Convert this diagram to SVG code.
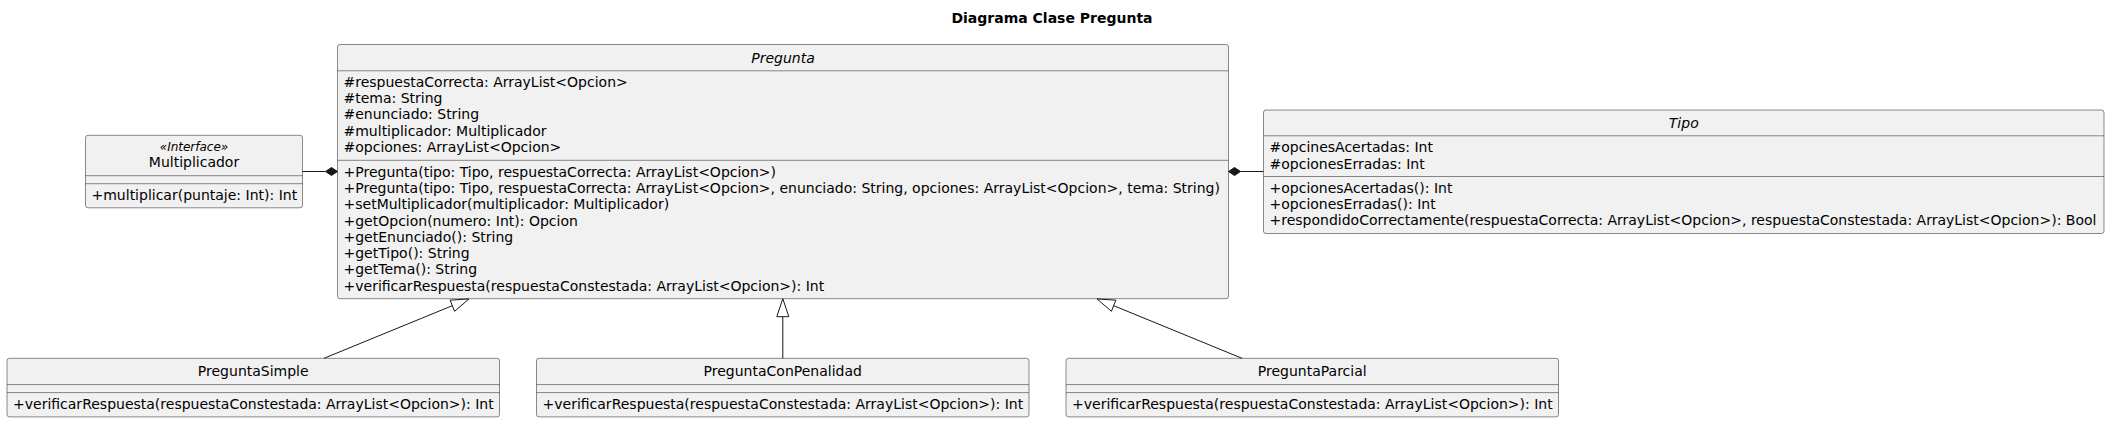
<svg xmlns="http://www.w3.org/2000/svg" width="2110" height="423" viewBox="0 0 2110 423">
<style>
.box{fill:#F1F1F1;stroke:#181818;stroke-width:0.5}
.sep{stroke:#181818;stroke-width:0.5}
text{font-family:"DejaVu Sans","Liberation Sans",sans-serif;font-size:14px;fill:#000000}
.name{text-anchor:middle}
.abs{font-style:italic}
.st{font-size:12px;font-style:italic;text-anchor:middle}
.title{font-weight:bold;text-anchor:middle}
.link{stroke:#181818;stroke-width:1;fill:none}
.comp{fill:#181818;stroke:#181818;stroke-width:1}
.ext{fill:none;stroke:#181818;stroke-width:1}
</style>
<rect width="2110" height="423" fill="#FFFFFF"/>
<text class="title" x="1052" y="23">Diagrama Clase Pregunta</text>

<g id="Multiplicador">
<rect class="box" x="85.5" y="135.3" width="217" height="72.5" rx="2.5" ry="2.5"/>
<text class="st" x="194" y="150.7">«Interface»</text>
<text class="name" x="194" y="166.7">Multiplicador</text>
<line class="sep" x1="85.5" y1="175.7" x2="302.5" y2="175.7"/>
<line class="sep" x1="85.5" y1="183.7" x2="302.5" y2="183.7"/>
<text x="91.5" y="200.3">+multiplicar(puntaje: Int): Int</text>
</g>

<g id="Pregunta">
<rect class="box" x="337.5" y="44.5" width="891" height="254.2" rx="2.5" ry="2.5"/>
<text class="name abs" x="783" y="62.5">Pregunta</text>
<line class="sep" x1="337.5" y1="70.8" x2="1228.5" y2="70.8"/>
<text x="343.5" y="86.8">#respuestaCorrecta: ArrayList&lt;Opcion&gt;</text>
<text x="343.5" y="103.1">#tema: String</text>
<text x="343.5" y="119.4">#enunciado: String</text>
<text x="343.5" y="135.7">#multiplicador: Multiplicador</text>
<text x="343.5" y="152">#opciones: ArrayList&lt;Opcion&gt;</text>
<line class="sep" x1="337.5" y1="160.3" x2="1228.5" y2="160.3"/>
<text x="343.5" y="176.6">+Pregunta(tipo: Tipo, respuestaCorrecta: ArrayList&lt;Opcion&gt;)</text>
<text x="343.5" y="192.9">+Pregunta(tipo: Tipo, respuestaCorrecta: ArrayList&lt;Opcion&gt;, enunciado: String, opciones: ArrayList&lt;Opcion&gt;, tema: String)</text>
<text x="343.5" y="209.2">+setMultiplicador(multiplicador: Multiplicador)</text>
<text x="343.5" y="225.5">+getOpcion(numero: Int): Opcion</text>
<text x="343.5" y="241.8">+getEnunciado(): String</text>
<text x="343.5" y="258.1">+getTipo(): String</text>
<text x="343.5" y="274.4">+getTema(): String</text>
<text x="343.5" y="290.7">+verificarRespuesta(respuestaConstestada: ArrayList&lt;Opcion&gt;): Int</text>
</g>

<g id="Tipo">
<rect class="box" x="1263.5" y="110" width="840.5" height="123.5" rx="2.5" ry="2.5"/>
<text class="name abs" x="1683.75" y="128">Tipo</text>
<line class="sep" x1="1263.5" y1="135.8" x2="2104" y2="135.8"/>
<text x="1269.5" y="152.3">#opcinesAcertadas: Int</text>
<text x="1269.5" y="168.6">#opcionesErradas: Int</text>
<line class="sep" x1="1263.5" y1="176.5" x2="2104" y2="176.5"/>
<text x="1269.5" y="192.8">+opcionesAcertadas(): Int</text>
<text x="1269.5" y="209.1">+opcionesErradas(): Int</text>
<text x="1269.5" y="225.4">+respondidoCorrectamente(respuestaCorrecta: ArrayList&lt;Opcion&gt;, respuestaConstestada: ArrayList&lt;Opcion&gt;): Bool</text>
</g>

<g id="PreguntaSimple">
<rect class="box" x="7" y="358.3" width="492.5" height="58.6" rx="2.5" ry="2.5"/>
<text class="name" x="253.25" y="376.3">PreguntaSimple</text>
<line class="sep" x1="7" y1="384.6" x2="499.5" y2="384.6"/>
<line class="sep" x1="7" y1="392.6" x2="499.5" y2="392.6"/>
<text x="13" y="408.9">+verificarRespuesta(respuestaConstestada: ArrayList&lt;Opcion&gt;): Int</text>
</g>

<g id="PreguntaConPenalidad">
<rect class="box" x="536.5" y="358.3" width="492.5" height="58.6" rx="2.5" ry="2.5"/>
<text class="name" x="782.75" y="376.3">PreguntaConPenalidad</text>
<line class="sep" x1="536.5" y1="384.6" x2="1029" y2="384.6"/>
<line class="sep" x1="536.5" y1="392.6" x2="1029" y2="392.6"/>
<text x="542.5" y="408.9">+verificarRespuesta(respuestaConstestada: ArrayList&lt;Opcion&gt;): Int</text>
</g>

<g id="PreguntaParcial">
<rect class="box" x="1066" y="358.3" width="492.5" height="58.6" rx="2.5" ry="2.5"/>
<text class="name" x="1312.25" y="376.3">PreguntaParcial</text>
<line class="sep" x1="1066" y1="384.6" x2="1558.5" y2="384.6"/>
<line class="sep" x1="1066" y1="392.6" x2="1558.5" y2="392.6"/>
<text x="1072" y="408.9">+verificarRespuesta(respuestaConstestada: ArrayList&lt;Opcion&gt;): Int</text>
</g>

<g id="connectors">
<line class="link" x1="302.5" y1="171.5" x2="325.5" y2="171.5"/>
<polygon class="comp" points="337.5,171.5 331.5,167.5 325.5,171.5 331.5,175.5"/>
<line class="link" x1="1240.5" y1="171.5" x2="1263.5" y2="171.5"/>
<polygon class="comp" points="1228.5,171.5 1234.5,167.5 1240.5,171.5 1234.5,175.5"/>
<line class="link" x1="324" y1="358.3" x2="452.3" y2="305.7"/>
<polygon class="ext" points="469,298.9 454.6,311.3 450.1,300.2 469,298.9"/>
<line class="link" x1="782.8" y1="358.3" x2="782.8" y2="316.7"/>
<polygon class="ext" points="782.8,298.7 776.8,316.7 788.8,316.7 782.8,298.7"/>
<line class="link" x1="1242" y1="358.3" x2="1113.7" y2="305.7"/>
<polygon class="ext" points="1097,298.9 1111.4,311.3 1115.9,300.2 1097,298.9"/>
</g>
</svg>
